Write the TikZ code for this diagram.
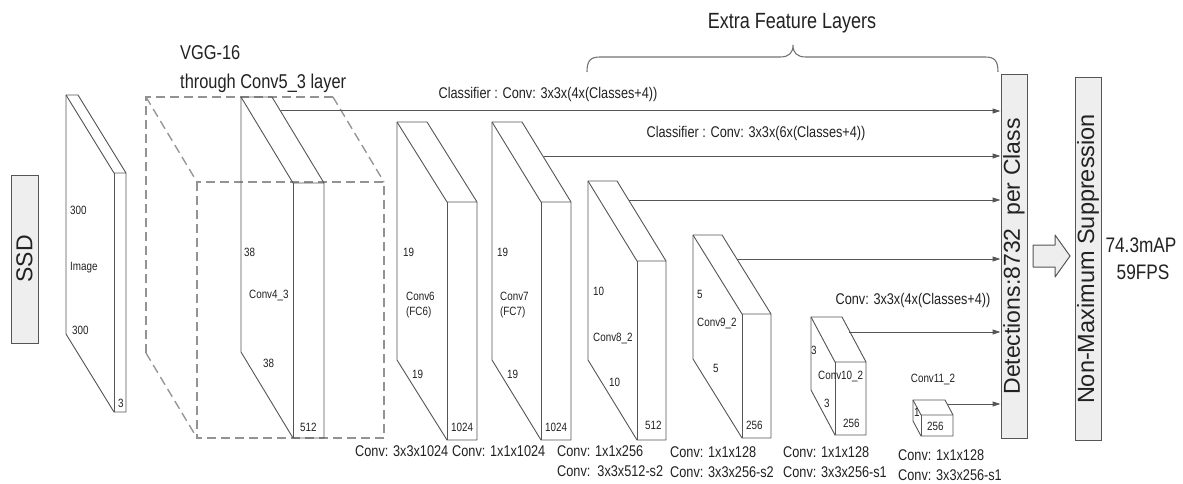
\documentclass[tikz,border=0pt]{standalone}
\usepackage{fontspec}
\setmainfont{Liberation Sans}
\newfontfamily\nar[FakeStretch=0.82]{Liberation Sans}
\usetikzlibrary{arrows.meta}
\definecolor{lin}{HTML}{555555}
\definecolor{boxfill}{HTML}{EEEEEE}
\definecolor{txt}{HTML}{222222}
\tikzset{
  slab/.style={draw=lin, line width=0.9pt, line join=round},
  dash box/.style={draw=gray!85, line width=1.3pt, dash pattern=on 9pt off 5pt},
  conn/.style={draw=lin, line width=1pt, -{Triangle[length=8pt,width=5pt]}},
  tiny/.style={font=\nar\fontsize{12}{12}\selectfont, text=txt, inner sep=0pt, anchor=west},
  lab/.style={font=\nar\fontsize{15.5}{15.5}\selectfont, text=txt, inner sep=0pt},
  big/.style={font=\nar\fontsize{20}{20}\selectfont, text=txt, inner sep=0pt, anchor=west},
  vbox/.style={draw=lin, line width=1pt, fill=boxfill},
}
\newcommand{\slabdraw}[6]{%
  \draw[slab] (#1,#2) -- ++(#6,0) -- ++(#3,#4) -- ++(0,#5) -- ++(-#6,0) -- ++(-#3,-#4) -- cycle;
  \draw[slab] (#1,#2) -- ++(#3,#4) -- ++(#6,0);
  \draw[slab] ({#1+#3},{#2+#4}) -- ++(0,#5);
}
\begin{document}
\begin{tikzpicture}[x=1pt,y=-1pt]
\useasboundingbox[fill=white] (0,0) rectangle (1183,484);

% SSD box
\node[vbox, minimum width=27pt, minimum height=168pt, inner sep=0pt] (ssd) at (24.5,259) {};
\node[rotate=90, font=\fontsize{23}{23}\selectfont, text=txt] (ssdt) at (ssd.center) {SSD};

% Image slab
\slabdraw{66}{95}{48}{78}{239}{12}
\node[tiny] (i1) at (70,210) {300};
\node[tiny] (i2) at (70,268) {Image};
\node[tiny] (i3) at (72,330) {300};
\node[tiny] (i4) at (118,403) {3};

% VGG dashed box
\draw[dash box] (146,353) -- (146,97) -- (333,97);
\draw[dash box] (146,97) -- (197,182);
\draw[dash box] (333,97) -- (384,182);
\draw[dash box] (146,353) -- (197,438);
\draw[dash box] (197,182) rectangle (384,438);
\node[big] (vgg1) at (180,53) {VGG-16};
\node[big] (vgg2) at (180,83) {through Conv5\_3 layer};

% Conv4_3
\slabdraw{241}{97}{52}{86}{255}{31}
\node[tiny] at (244,252) {38};
\node[tiny] at (249,296) {Conv4\_3};
\node[tiny] at (263,363) {38};
\node[tiny] at (300,427) {512};

% Conv6
\slabdraw{397}{122}{50}{80}{238}{30}
\node[tiny] at (403,252) {19};
\node[tiny] at (406,296) {Conv6};
\node[tiny] at (406,312) {(FC6)};
\node[tiny] at (412,374) {19};
\node[tiny] at (451,427) {1024};

% Conv7
\slabdraw{492}{122}{49}{80}{238}{30}
\node[tiny] at (497,252) {19};
\node[tiny] at (500,296) {Conv7};
\node[tiny] at (500,312) {(FC7)};
\node[tiny] at (507,374) {19};
\node[tiny] at (545,427) {1024};

% Conv8_2
\slabdraw{588}{181}{49}{80}{179}{29}
\node[tiny] at (593,291) {10};
\node[tiny] at (593,338) {Conv8\_2};
\node[tiny] at (609,382) {10};
\node[tiny] at (645,425) {512};

% Conv9_2
\slabdraw{693}{235}{49}{79}{124}{29}
\node[tiny] at (697,294) {5};
\node[tiny] at (697,324) {Conv9\_2};
\node[tiny] at (713,368) {5};
\node[tiny] at (746,425) {256};

% Conv10_2
\slabdraw{811}{317}{24}{45}{73}{31}
\node[tiny] at (811,350) {3};
\node[tiny] at (818,377) {Conv10\_2};
\node[tiny] at (824,403) {3};
\node[tiny] at (843,423) {256};

% Conv11_2
\slabdraw{913}{400}{8}{15}{21}{32}
\node[tiny] at (914,412) {1};
\node[tiny] at (927,426) {256};
\node[tiny, anchor=center] at (933,380) {Conv11\_2};

% Detections and NMS boxes
\node[vbox, minimum width=26pt, minimum height=363pt, inner sep=0pt] (det) at (1014,256.5) {};
\node[rotate=90, font=\fontsize{23}{23}\selectfont, text=txt] at (det.center) {Detections:8732\ \ per Class};
\node[vbox, minimum width=26pt, minimum height=362pt, inner sep=0pt] (nms) at (1088,259) {};
\node[rotate=90, font=\fontsize{23.5}{23.5}\selectfont, text=txt] at (nms.center) {Non-Maximum Suppression};

% arrow starts
\coordinate (a1) at (281,111);
\coordinate (a2) at (544,156);
\coordinate (a3) at (629,200);
\coordinate (a4) at (737,259);
\coordinate (a5) at (849,332);
\coordinate (a6) at (947,404);
\foreach \i in {1,...,6} {\draw[conn] (a\i) -- (a\i -| det.west);}

% classifier labels
\node[lab] (c1) at (548,94) {Classifier : Conv: 3x3x(4x(Classes+4))};
\node[lab] (c2) at (756,133) {Classifier : Conv: 3x3x(6x(Classes+4))};
\node[lab] (c3) at (913,300) {Conv: 3x3x(4x(Classes+4))};

% brace
\draw[draw=gray!90!black, line width=1.1pt] (587,72) .. controls (587,61) and (590,57) .. (600,57) -- (780,57)
  .. controls (789,57) and (793,53) .. (793,45) .. controls (793,53) and (797,57) .. (806,57) -- (985,57)
  .. controls (995,57) and (998,61) .. (998,72);
\node[font=\nar\fontsize{22}{22}\selectfont, text=txt, inner sep=0pt] (efl) at (792,23) {Extra Feature Layers};

% bottom labels
\node[lab, anchor=west] at (355,451) {Conv: 3x3x1024};
\node[lab, anchor=west] at (452,451) {Conv: 1x1x1024};
\node[lab, anchor=west] at (557,451) {Conv: 1x1x256};
\node[lab, anchor=west] at (557,471) {Conv:\ \ 3x3x512-s2};
\node[lab, anchor=west] at (670,452) {Conv: 1x1x128};
\node[lab, anchor=west] at (670,472) {Conv: 3x3x256-s2};
\node[lab, anchor=west] at (783,452) {Conv: 1x1x128};
\node[lab, anchor=west] at (783,472) {Conv: 3x3x256-s1};
\node[lab, anchor=west] at (898,455) {Conv: 1x1x128};
\node[lab, anchor=west] at (898,475) {Conv: 3x3x256-s1};

% big hollow arrow
\draw[draw=lin, line width=1pt, fill=boxfill, line join=round]
  (1033,245) -- (1055,245) -- (1055,235) -- (1070,256) -- (1055,277) -- (1055,267) -- (1033,267) -- cycle;

% result text
\node[font=\nar\fontsize{21}{21}\selectfont, text=txt, inner sep=0pt] (map) at (1141,245) {74.3mAP};
\node[font=\nar\fontsize{21}{21}\selectfont, text=txt, inner sep=0pt] (fps) at (1143,272) {59FPS};
\end{tikzpicture}
\end{document}
